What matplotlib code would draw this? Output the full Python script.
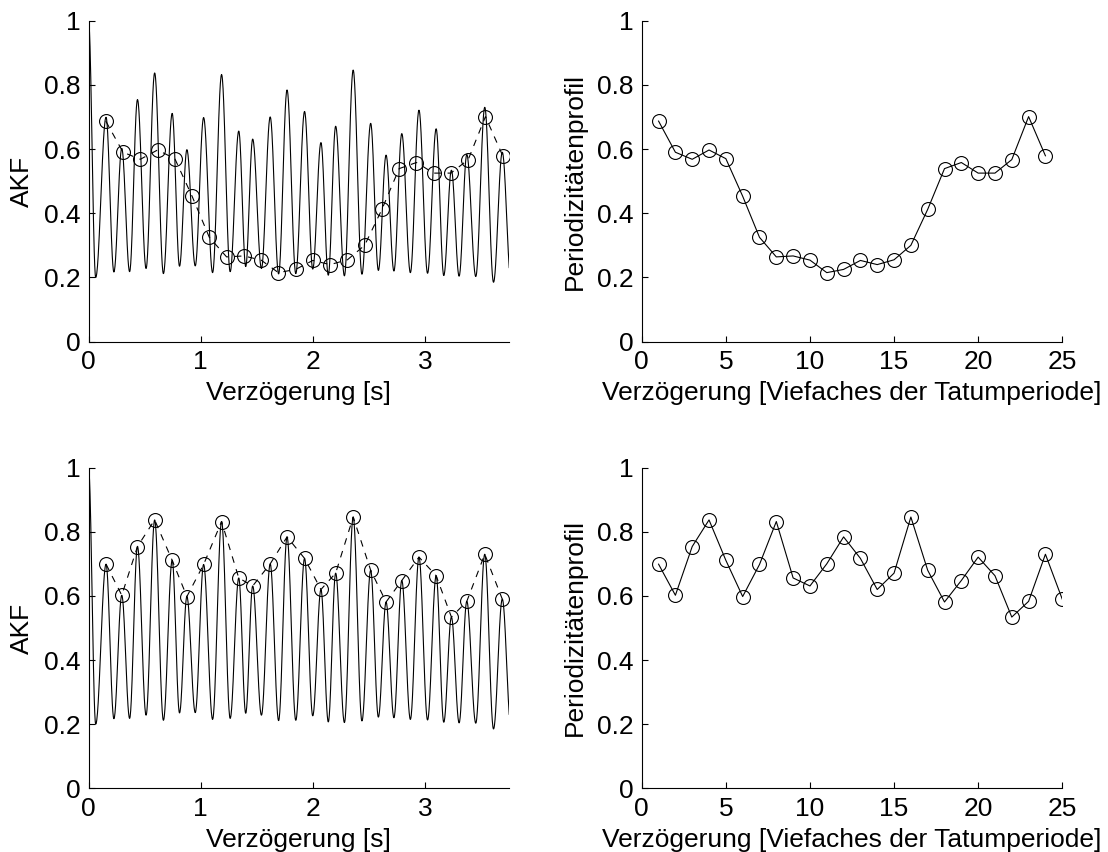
import numpy as np
import matplotlib.pyplot as plt

plt.rcParams['font.family'] = ['Liberation Sans', 'DejaVu Sans']
plt.rcParams['font.size'] = 19

# Periodizitätenprofil, oben: falsche Tatumperiode (24 Lags)
lag_top = list(range(1, 25))
profil_top = [0.687, 0.590, 0.568, 0.597, 0.570, 0.453, 0.325, 0.264, 0.267, 0.254,
              0.215, 0.225, 0.253, 0.240, 0.255, 0.300, 0.412, 0.539, 0.558, 0.525,
              0.525, 0.567, 0.701, 0.579]
tatum_top = 0.1537  # s

# Periodizitätenprofil, unten: richtige Tatumperiode (25 Lags)
lag_bot = list(range(1, 26))
profil_bot = [0.699, 0.602, 0.754, 0.837, 0.711, 0.598, 0.698, 0.832, 0.656, 0.631,
              0.700, 0.784, 0.717, 0.620, 0.671, 0.846, 0.680, 0.581, 0.648, 0.721,
              0.663, 0.534, 0.583, 0.730, 0.590]

# Maxima der AKF [s] (Hoehen = profil_bot) und Minima dazwischen
peak_s = [0.156, 0.296, 0.436, 0.589, 0.745, 0.876, 1.025, 1.185, 1.338, 1.462,
          1.618, 1.768, 1.924, 2.070, 2.201, 2.357, 2.513, 2.650, 2.790, 2.943,
          3.096, 3.232, 3.369, 3.529, 3.685]
trough_val = [0.200, 0.217, 0.218, 0.228, 0.212, 0.235, 0.236, 0.215, 0.218, 0.234,
              0.228, 0.211, 0.212, 0.226, 0.207, 0.205, 0.210, 0.222, 0.220, 0.215,
              0.213, 0.206, 0.204, 0.203, 0.185, 0.190]
first_trough_s = 0.064
t_max = 3.745


def akf_kurve(peaks, heights, troughs):
    # Extrema abwechselnd: 1 bei Lag 0, Minimum, Maximum, Minimum, ...
    tx = [first_trough_s]
    for a, b in zip(peaks[:-1], peaks[1:]):
        tx.append((a + b) / 2)
    tx.append(peaks[-1] + (peaks[-1] - peaks[-2]) / 2)
    ex = [0.0]
    ey = [1.0]
    for i in range(len(peaks)):
        ex += [tx[i], peaks[i]]
        ey += [troughs[i], heights[i]]
    ex.append(tx[-1])
    ey.append(troughs[-1])
    xs, ys = [], []
    s = np.linspace(0, 1, 30)
    for i in range(len(ex) - 1):
        xs.append(ex[i] + (ex[i + 1] - ex[i]) * s)
        ys.append(ey[i] + (ey[i + 1] - ey[i]) * (1 - np.cos(np.pi * s)) / 2)
    return np.concatenate(xs), np.concatenate(ys)


kx, ky = akf_kurve(peak_s, profil_bot, trough_val)

yt = [0, 0.2, 0.4, 0.6, 0.8, 1]
ytl = ['0', '0.2', '0.4', '0.6', '0.8', '1']

fig = plt.figure(figsize=(11.08, 8.52), dpi=100)
ax1 = fig.add_axes([0.0799, 0.599, 0.3795, 0.3768])
ax2 = fig.add_axes([0.5792, 0.599, 0.3795, 0.3768])
ax3 = fig.add_axes([0.0799, 0.0748, 0.3795, 0.3763])
ax4 = fig.add_axes([0.5792, 0.0748, 0.3795, 0.3763])

mk = dict(marker='o', markersize=10, fillstyle='none', markeredgewidth=0.8, color='black')

# links: AKF mit Werten an den Vielfachen der Tatumperiode
ax1.plot(kx, ky, color='black', lw=0.8)
ax1.plot([k * tatum_top for k in lag_top], profil_top, ls='--', dashes=(6, 6), lw=0.8, **mk)
ax3.plot(kx, ky, color='black', lw=0.8)
ax3.plot(peak_s, profil_bot, ls='--', dashes=(6, 6), lw=0.8, **mk)

# rechts: Periodizitätenprofil
ax2.plot(lag_top, profil_top, ls='-', lw=0.8, **mk)
ax4.plot(lag_bot, profil_bot, ls='-', lw=0.8, **mk)

for ax in (ax1, ax3):
    ax.set_xlim(0, t_max)
    ax.set_xticks([0, 1, 2, 3], ['0', '1', '2', '3'])
    ax.set_ylabel('AKF')
    ax.set_xlabel('Verzögerung [s]')

for ax in (ax2, ax4):
    ax.set_xlim(0, 25)
    ax.set_xticks([0, 5, 10, 15, 20, 25], ['0', '5', '10', '15', '20', '25'])
    ax.set_ylabel('Periodizitätenprofil')
    ax.set_xlabel('Verzögerung [Viefaches der Tatumperiode]')

for ax in (ax1, ax2, ax3, ax4):
    ax.set_ylim(0, 1)
    ax.set_yticks(yt, ytl)
    ax.spines['top'].set_visible(False)
    ax.spines['right'].set_visible(False)
    ax.spines['left'].set_linewidth(0.8)
    ax.spines['bottom'].set_linewidth(0.8)
    ax.tick_params(direction='in', length=4, width=0.8, pad=6)
    ax.xaxis.labelpad = 5
    ax.yaxis.labelpad = 7

fig.savefig('out.png', dpi=100)
